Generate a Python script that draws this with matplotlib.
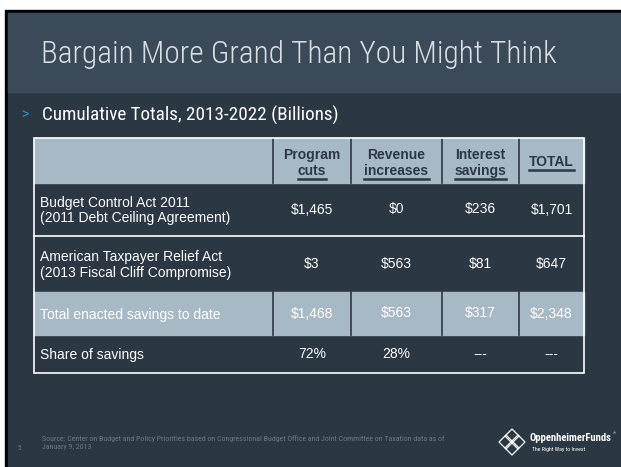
import matplotlib
matplotlib.use("Agg")
import matplotlib.pyplot as plt
from matplotlib.patches import Rectangle, Polygon

# table content
col_heads = [("Program", "cuts"), ("Revenue", "increases"), ("Interest", "savings"), ("", "TOTAL")]
row_labels = ["Budget Control Act 2011\n(2011 Debt Ceiling Agreement)",
              "American Taxpayer Relief Act\n(2013 Fiscal Cliff Compromise)",
              "Total enacted savings to date",
              "Share of savings"]
program_cuts = ["$1,465", "$3", "$1,468", "72%"]
revenue_incr = ["$0", "$563", "$563", "28%"]
interest_sav = ["$236", "$81", "$317", "---"]
total_col = ["$1,701", "$647", "$2,348", "---"]

title = "Bargain More Grand Than You Might Think"
subtitle = "Cumulative Totals, 2013-2022 (Billions)"
source = ("Source: Center on Budget and Policy Priorities based on Congressional Budget Office and Joint Committee on Taxation data as of\n"
          "January 9, 2013")

W, H = 621, 467
BODY = "#2c3744"
BAND = "#3b4a59"
LIGHT = "#a8b9c6"
COND = ["Roboto Condensed", "Encode Sans Condensed", "Liberation Sans", "DejaVu Sans"]
ARIAL = ["Liberation Sans", "DejaVu Sans"]

fig = plt.figure(figsize=(W / 100, H / 100), dpi=100)
ax = fig.add_axes([0, 0, 1, 1])
ax.set_xlim(0, W)
ax.set_ylim(H, 0)
ax.axis("off")
fig.patch.set_facecolor("white")
rend = fig.canvas.get_renderer()


def fit(t, width):
    # scale the font so the text spans the given pixel width
    w = t.get_window_extent(rend).width
    t.set_fontsize(t.get_fontsize() * width / w)
    return t


# slide background, frame
ax.add_patch(Rectangle((5, 10), W - 5, H - 10, color="black", zorder=0))
ax.add_patch(Rectangle((8, 13), W - 8, H - 13, color=BODY, zorder=1))
ax.add_patch(Rectangle((8, 13), W - 8, 79, color=BAND, zorder=1))

fit(ax.text(41, 63, title, fontsize=22, fontweight=300, color="#d9dee3", family=COND,
            va="baseline", zorder=3), 516)
ax.text(21, 115, ">", fontsize=9, color="#29a8e0", family=ARIAL, va="center", zorder=3)
fit(ax.text(42, 115, subtitle, fontsize=12, color="white", family=COND, va="center",
            zorder=3), 296)

# table layout
xs = [34, 273, 351, 442, 519, 584]
ys = [138, 183, 236, 292, 335, 373]
columns = [program_cuts, revenue_incr, interest_sav, total_col]

ax.add_patch(Rectangle((xs[0], ys[0]), xs[-1] - xs[0], ys[1] - ys[0], color=LIGHT, zorder=2))
ax.add_patch(Rectangle((xs[0], ys[3]), xs[-1] - xs[0], ys[4] - ys[3], color=LIGHT, zorder=2))
for x in xs[1:-1]:
    ax.plot([x, x], [ys[0], ys[1]], color=BODY, lw=1.2, zorder=3)
    ax.plot([x, x], [ys[3], ys[4]], color=BODY, lw=1.2, zorder=3)
ax.plot([xs[0], xs[-1]], [ys[2], ys[2]], color="white", lw=1.2, zorder=3)
ax.add_patch(Rectangle((xs[0], ys[0]), xs[-1] - xs[0], ys[-1] - ys[0], fill=False,
                       ec="white", lw=1.2, zorder=4))

inv = ax.transData.inverted()

# header cells
for j, (top, bottom) in enumerate(col_heads):
    cx = (xs[j + 1] + xs[j + 2]) / 2
    if top:
        ax.text(cx, 155, top, fontsize=10, fontweight="bold", color=BODY, family=ARIAL,
                ha="center", va="center", zorder=5)
        yb = 171
    else:
        yb = 162
    t = ax.text(cx, yb, bottom, fontsize=10, fontweight="bold", color=BODY, family=ARIAL,
                ha="center", va="center", zorder=5)
    bb = t.get_window_extent(rend)
    (x0, _), (x1, _) = inv.transform([(bb.x0, bb.y0), (bb.x1, bb.y0)])
    ax.plot([x0, x1], [yb + 7.5, yb + 7.5], color=BODY, lw=1.8, zorder=5)

# body rows
for i, lab in enumerate(row_labels):
    cy = (ys[i + 1] + ys[i + 2]) / 2
    ax.text(40, cy + 1, lab, fontsize=10, color="white", family=ARIAL, va="center",
            linespacing=1.1, zorder=5)
    for j, col in enumerate(columns):
        cx = (xs[j + 1] + xs[j + 2]) / 2
        ax.text(cx, cy, col[i], fontsize=10, color="white", family=ARIAL,
                ha="center", va="center", zorder=5)

# footer
ax.text(18, 448, "5", fontsize=5, color="#6b7885", family=COND, va="center", zorder=3)
fit(ax.text(42, 443, source, fontsize=5, color="#6b7885", family=COND, va="center",
            linespacing=1.4, zorder=3), 405)

# logo mark
lx, ly = 512, 442
for dx, dy in [(0, -6), (6, 0), (0, 6), (-6, 0)]:
    ax.add_patch(Polygon([(lx + dx - 7, ly + dy), (lx + dx, ly + dy - 7),
                          (lx + dx + 7, ly + dy), (lx + dx, ly + dy + 7)],
                         closed=True, fill=False, ec="white", lw=0.9, zorder=3))
fit(ax.text(530, 438, "OppenheimerFunds", fontsize=8, fontweight="bold", color="white",
            family=COND, va="center", zorder=3), 82)
ax.text(613, 433, "®", fontsize=3, color="white", family=ARIAL, va="center", zorder=3)
fit(ax.text(532, 450, "The Right Way to Invest", fontsize=4, color="white", family=COND,
            va="center", zorder=3), 53)

fig.savefig("out.png", dpi=100, facecolor="white")
